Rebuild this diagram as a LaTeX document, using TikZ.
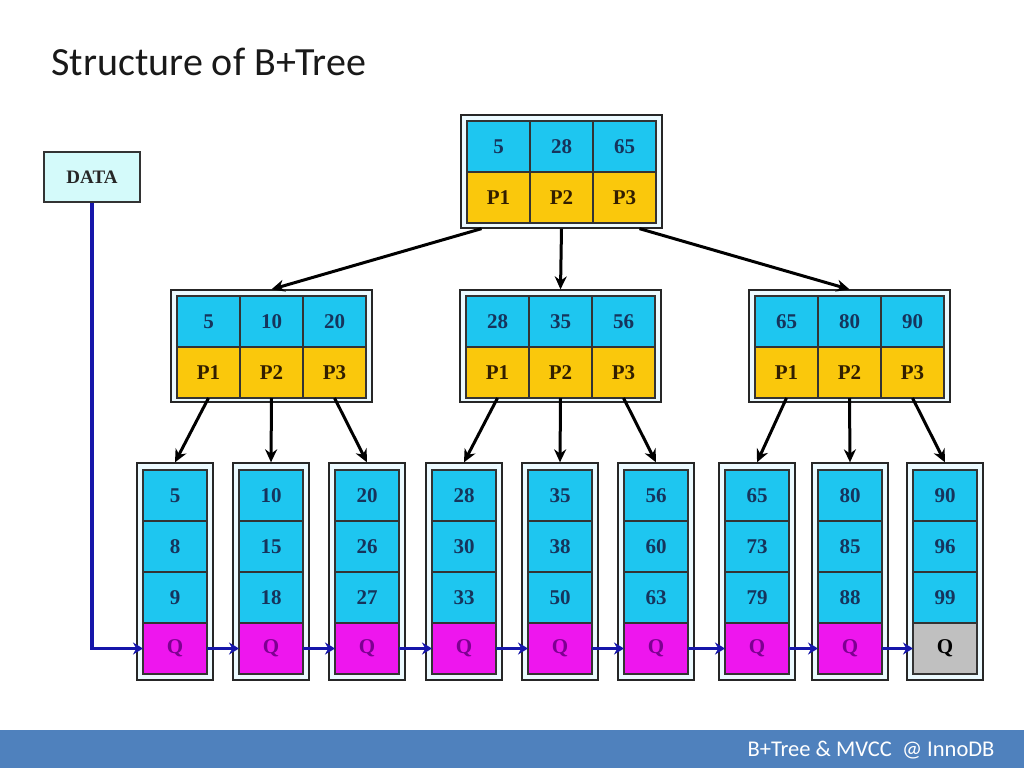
\documentclass[tikz,border=0pt]{standalone}
\usepackage{fontspec}
\setmainfont{Carlito}
\newfontfamily\cellfont{Liberation Serif}
\usepackage{tikz}
\usetikzlibrary{positioning,arrows.meta,calc}

\definecolor{keyblue}{RGB}{30,198,240}
\definecolor{ptryellow}{RGB}{250,200,12}
\definecolor{qpink}{RGB}{238,22,238}
\definecolor{qgray}{RGB}{192,192,192}
\definecolor{boxfill}{RGB}{236,250,255}
\definecolor{datafill}{RGB}{212,250,250}
\definecolor{keytext}{RGB}{22,52,92}
\definecolor{ptrtext}{RGB}{50,30,0}
\definecolor{qtext}{RGB}{125,0,145}
\definecolor{linkblue}{RGB}{22,22,170}
\definecolor{barblue}{RGB}{79,129,189}

\tikzset{
  outerbox/.style={draw=black!85,line width=1.3pt,fill=boxfill,inner sep=0pt},
  cellbase/.style={draw=black!80,line width=1.4pt,inner sep=0pt,outer sep=0pt,
    font=\cellfont\bfseries\fontsize{21}{22}\selectfont},
  keycell/.style={cellbase,fill=keyblue,text=keytext,minimum width=63,minimum height=51},
  ptrcell/.style={cellbase,fill=ptryellow,text=ptrtext,minimum width=63,minimum height=51},
  leafcell/.style={cellbase,fill=keyblue,text=keytext,minimum width=64,minimum height=51},
  qcell/.style={cellbase,fill=qpink,text=qtext,minimum width=64,minimum height=51},
  endcell/.style={cellbase,fill=qgray,text=black,minimum width=64,minimum height=51},
  datacell/.style={draw=black!80,line width=1.2pt,fill=datafill,minimum width=96,minimum height=50,
    font=\cellfont\bfseries\fontsize{19}{20}\selectfont,text=black!85},
  treearrow/.style={-{Stealth[length=13pt,width=12pt]},line width=3pt,black},
  linkarrow/.style={-{Stealth[length=10pt,width=12pt]},line width=3.4pt,linkblue}
}

\begin{document}
\begin{tikzpicture}[x=1pt,y=-1pt]
  \useasboundingbox (0,0) rectangle (1024,768);

  % title and footer
  \node[anchor=base west,font=\fontsize{40}{46}\selectfont,text=black!90] (title) at (48,75) {Structure of B+Tree};
  \fill[barblue] (0,730) rectangle (1024,768);
  \node[anchor=base east,font=\fontsize{22.5}{26}\selectfont,text=white] (foot) at (998,756) {B+Tree \& MVCC\ \ @ InnoDB};

  % root node
  \node[outerbox,minimum width=201,minimum height=113] (root) at (561.5,171.5) {};
  \foreach \k/\p [count=\i] in {5/P1,28/P2,65/P3} {
    \node[keycell] (rk\i) at ({435.5+63*\i},146.5) {\k};
    \node[ptrcell] (rp\i) at ({435.5+63*\i},197.5) {\p};
  }

  % second level
  \foreach \cx/\a/\b/\c [count=\m] in {271.5/5/10/20,560.5/28/35/56,849.5/65/80/90} {
    \node[outerbox,minimum width=201,minimum height=112] (mid\m) at (\cx,346) {};
    \foreach \k [count=\j] in {\a,\b,\c} {
      \node[keycell] (m\m-k\j) at ({\cx-126+63*\j},321.5) {\k};
      \node[ptrcell] (m\m-p\j) at ({\cx-126+63*\j},372.5) {P\j};
    }
  }

  % leaves
  \foreach \cx/\a/\b/\c/\qs [count=\i] in {175/5/8/9/qcell,271/10/15/18/qcell,367/20/26/27/qcell,
      464/28/30/33/qcell,560/35/38/50/qcell,656/56/60/63/qcell,
      757/65/73/79/qcell,850/80/85/88/qcell,945/90/96/99/endcell} {
    \node[outerbox,minimum width=76,minimum height=217] (leaf\i) at (\cx,571.5) {};
    \node[leafcell] (a\i) at (\cx,495.5) {\a};
    \node[leafcell] (b\i) at (\cx,546.5) {\b};
    \node[leafcell] (c\i) at (\cx,597.5) {\c};
    \node[\qs] (q\i) at (\cx,648.5) {Q};
  }

  % root -> second level
  \draw[treearrow] ([xshift=-80]root.south) -- (mid1.north);
  \draw[treearrow] (root.south) -- (mid2.north);
  \draw[treearrow] ([xshift=78]root.south) -- (mid3.north);

  % second level -> leaves
  \foreach \m/\j/\l in {1/1/1,1/2/2,1/3/3,2/1/4,2/2/5,2/3/6,3/1/7,3/2/8,3/3/9}
    \draw[treearrow] (m\m-p\j.south) -- (leaf\l.north);

  % leaf chain
  \node[datacell] (data) at (92,177) {DATA};
  \draw[linkarrow] (data.south) |- (q1.west);
  \foreach \i [evaluate=\i as \n using int(\i+1)] in {1,...,8}
    \draw[linkarrow] (q\i.east) -- (q\n.west);
\end{tikzpicture}
\end{document}
